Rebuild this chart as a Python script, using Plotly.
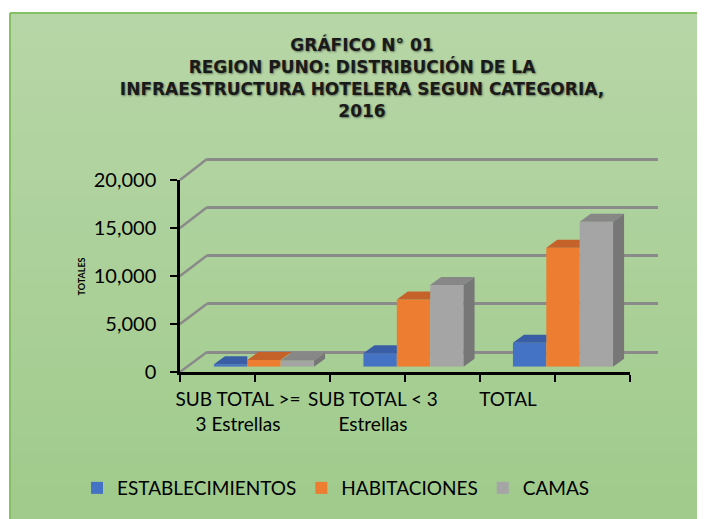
import plotly.graph_objects as go

# ---------------- data ----------------
CATEGORIES = ["SUB TOTAL >=<br>3 Estrellas", "SUB TOTAL < 3<br>Estrellas", "TOTAL"]
ESTABLECIMIENTOS = [250, 1400, 2500]
HABITACIONES = [700, 7000, 12400]
CAMAS = [650, 8500, 15100]
Y_TICKS = [0, 5000, 10000, 15000, 20000]
SERIES = [("ESTABLECIMIENTOS", ESTABLECIMIENTOS, "#4472C4", "#3a5ea6", None),
          ("HABITACIONES", HABITACIONES, "#ED7D31", "#c4622a", None),
          ("CAMAS", CAMAS, "#A5A5A5", "#878787", "#777777")]
TITLE = ("<b>GRÁFICO N° 01<br>REGION PUNO: DISTRIBUCIÓN DE LA<br>"
         "INFRAESTRUCTURA HOTELERA SEGUN CATEGORIA,<br>2016</b>")

OFF = 8            # page body margin
W, H = 705 - OFF, 519 - OFF
px = lambda v: (v - OFF) / W
py = lambda v: 1 - (v - OFF) / H

fig = go.Figure()

# back wall (drawn first): gridlines only
fig.add_trace(go.Scatter(x=[], y=[], xaxis="x", yaxis="y", showlegend=False, hoverinfo="skip"))
# bars
idx = list(range(len(CATEGORIES)))
for name, vals, col, _, _ in SERIES:
    fig.add_trace(go.Bar(x=idx, y=vals, name=name, xaxis="x2", yaxis="y2",
                         marker=dict(color=col, line=dict(width=0))))
# front axes & labels
fig.add_trace(go.Scatter(x=[], y=[], xaxis="x3", yaxis="y3", showlegend=False, hoverinfo="skip"))
fig.add_trace(go.Scatter(x=[], y=[], xaxis="x4", yaxis="y3", showlegend=False, hoverinfo="skip"))

# background gradient strips
top = (183, 214, 167)
bot = (160, 203, 140)
N = 30
x0, y0 = px(10), py(13)
for i in range(N):
    t = i / (N - 1)
    c = tuple(round(top[k] + (bot[k] - top[k]) * t) for k in range(3))
    ya = y0 - y0 * i / N
    yb = y0 - y0 * (i + 1) / N
    fig.add_shape(type="rect", xref="paper", yref="paper", x0=x0, x1=1.01, y0=yb - 0.003, y1=ya,
                  fillcolor="rgb(%d,%d,%d)" % c, line=dict(width=0), layer="below")
fig.add_shape(type="line", xref="paper", yref="paper", x0=x0, x1=x0, y0=-0.01, y1=y0,
              line=dict(color="#86c064", width=2), layer="below")
fig.add_shape(type="line", xref="paper", yref="paper", x0=x0, x1=1.01, y0=y0, y1=y0,
              line=dict(color="#86c064", width=2), layer="below")

# pixel geometry (reference pixels)
FRONT_X, FRONT_Y0, FRONT_Y1 = 180, 372, 180
BACK_X0, BACK_X1, BACK_Y0, BACK_Y1 = 207, 658, 352, 159
ymax = Y_TICKS[-1]
for v in Y_TICKS:
    yf = FRONT_Y0 + (FRONT_Y1 - FRONT_Y0) * v / ymax
    yb = BACK_Y0 + (BACK_Y1 - BACK_Y0) * v / ymax
    fig.add_shape(type="line", xref="paper", yref="paper", x0=px(FRONT_X), y0=py(yf),
                  x1=px(BACK_X0), y1=py(yb), line=dict(color="#8a8a8a", width=2.5), layer="below")

# 3-D faces of the bars (top faces + right side of the last bar), in bar-axis data units
BARGAP = 0.33
bw = (1 - BARGAP) / len(SERIES)
DX = 11 / 149.5            # depth offset, x units
DY = 8 * ymax / 192        # depth offset, y units
for g in idx:
    for s, (name, vals, col, topc, sidec) in enumerate(SERIES):
        v = vals[g]
        L = g - (1 - BARGAP) / 2 + s * bw
        R = L + bw
        nxt = SERIES[s + 1][1][g] if s + 1 < len(SERIES) else None
        if nxt is not None and nxt >= v:
            path = f"M{L},{v} L{R},{v} L{R},{v + DY} L{L + DX},{v + DY} Z"
        else:
            path = f"M{L},{v} L{R},{v} L{R + DX},{v + DY} L{L + DX},{v + DY} Z"
        fig.add_shape(type="path", xref="x2", yref="y2", path=path, fillcolor=topc,
                      line=dict(width=0), layer="above")
        if sidec is not None:
            side = f"M{R},0 L{R + DX},{DY} L{R + DX},{v + DY} L{R},{v} Z"
            fig.add_shape(type="path", xref="x2", yref="y2", path=side, fillcolor=sidec,
                          line=dict(width=0), layer="above")

pad = 300
pad_px = pad * (BACK_Y0 - BACK_Y1) / ymax
noax = dict(showgrid=False, showticklabels=False, zeroline=False, showline=False, ticks="",
            automargin=False)
fig.update_layout(
    width=W, height=H, margin=dict(l=0, r=0, t=0, b=0, autoexpand=False),
    paper_bgcolor="white", plot_bgcolor="rgba(0,0,0,0)",
    barmode="group", bargap=BARGAP, bargroupgap=0,
    font=dict(family="Lato", color="black"),
    title=dict(text=TITLE, x=px(362), xanchor="center", y=py(51), yanchor="middle",
               font=dict(family="DejaVu Sans", size=17, color="#1a1a1a",
                         shadow="1px 1px 2px rgba(0,0,0,0.45)")),
    xaxis=dict(domain=[px(BACK_X0), px(BACK_X1)], range=[0, 1], **noax),
    yaxis=dict(domain=[py(BACK_Y0 + pad_px), py(BACK_Y1 - pad_px)], range=[-pad, ymax + pad],
               tickvals=Y_TICKS, showgrid=True, gridcolor="#8a8a8a", gridwidth=2.5,
               showticklabels=False, zeroline=False, showline=False, ticks="", automargin=False),
    xaxis2=dict(domain=[px(189.25), px(637.75)], range=[-0.5, 2.5], anchor="y2", **noax),
    yaxis2=dict(domain=[py(366.7), py(174.7)], range=[0, ymax], anchor="x2", **noax),
    xaxis3=dict(domain=[px(FRONT_X), px(630)], range=[0, 6], dtick=1, anchor="y3",
                showgrid=False, showticklabels=False, zeroline=False, automargin=False,
                showline=True, linecolor="black", linewidth=2.5,
                ticks="outside", ticklen=7, tickwidth=2, tickcolor="black"),
    yaxis3=dict(domain=[py(FRONT_Y0), py(FRONT_Y1)], range=[0, ymax], tickvals=Y_TICKS,
                tickformat=",", anchor="x3", showgrid=False, zeroline=False, automargin=False,
                showline=True, linecolor="black", linewidth=2.5,
                ticks="outside", ticklen=7, tickwidth=2, tickcolor="black",
                tickfont=dict(family="Lato", size=20, color="black"), ticklabelstandoff=10),
    xaxis4=dict(domain=[px(170.5), px(575.5)], range=[-0.5, 2.5], tickvals=idx,
                ticktext=CATEGORIES, anchor="y3", showgrid=False, zeroline=False, automargin=False,
                showline=False, ticks="", tickfont=dict(family="Lato", size=19, color="black"),
                ticklabelstandoff=14),
    legend=dict(orientation="h", x=px(336), xanchor="center", y=py(488), yanchor="middle",
                font=dict(family="Lato", size=19, color="black"), bgcolor="rgba(0,0,0,0)",
                traceorder="normal", itemwidth=30),
    annotations=[dict(text="<b>TOTALES</b>", xref="paper", yref="paper", x=px(73), y=py(277),
                      textangle=-90, showarrow=False, font=dict(family="Lato", size=9, color="black"))],
)

fig.write_html("out.html")
